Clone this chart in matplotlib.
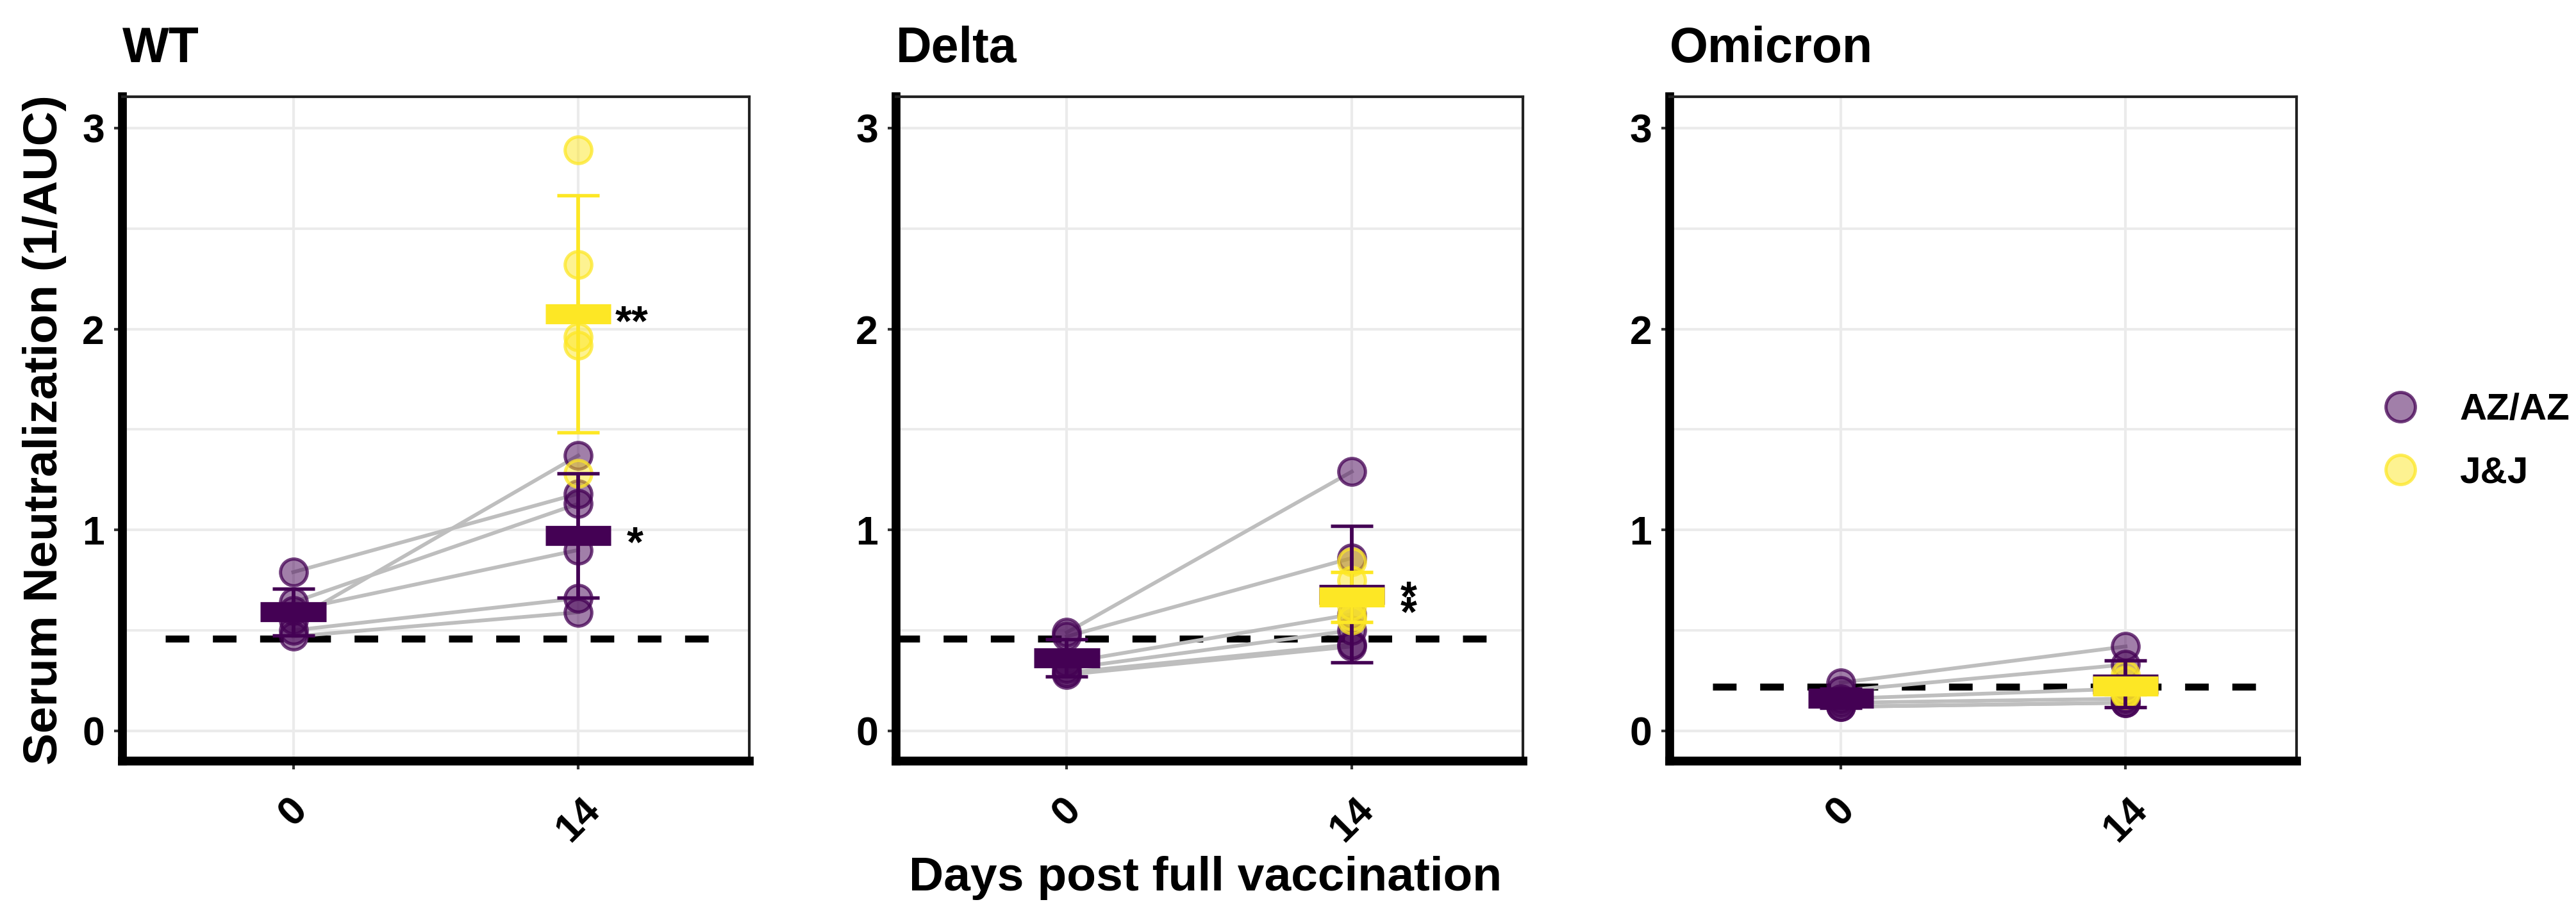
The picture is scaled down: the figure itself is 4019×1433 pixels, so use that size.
import numpy as np
import matplotlib
matplotlib.use("Agg")
import matplotlib.pyplot as plt
from matplotlib.lines import Line2D

plt.rcParams['font.family'] = ['Liberation Sans', 'DejaVu Sans']
plt.rcParams['font.weight'] = 'bold'

# data (serum neutralization, 1/AUC)
variants = ['WT', 'Delta', 'Omicron']
days = ['0', '14']

wt_az_d0 = [0.79, 0.64, 0.55, 0.60, 0.50, 0.47]
wt_az_d14 = [1.18, 1.13, 1.37, 0.90, 0.66, 0.59]
wt_jj_d14 = [2.89, 2.32, 1.96, 1.92, 1.28]

delta_az_d0 = [0.49, 0.47, 0.34, 0.31, 0.29, 0.28]
delta_az_d14 = [1.29, 0.86, 0.58, 0.50, 0.43, 0.42]
delta_jj_d14 = [0.84, 0.75, 0.62, 0.57, 0.55]

omicron_az_d0 = [0.24, 0.20, 0.16, 0.14, 0.12, 0.12]
omicron_az_d14 = [0.42, 0.33, 0.21, 0.16, 0.14, 0.14]
omicron_jj_d14 = [0.28, 0.25, 0.21, 0.19, 0.18]

detection_limit = [0.46, 0.46, 0.22]
lod_span = [(0.55, 2.52), (0.40, 2.54), (0.55, 2.52)]

# significance marks: (label, x, y of text centre)
wt_stars = [('**', 2.13, 2.025), ('*', 2.17, 0.925)]
delta_stars = [('*\n*', 2.17, 0.615)]   # two marks stacked almost on top of each other
omicron_stars = []

az_col = '#440154'
jj_col = '#FDE725'

panels = [
    (wt_az_d0, wt_az_d14, wt_jj_d14, wt_stars),
    (delta_az_d0, delta_az_d14, delta_jj_d14, delta_stars),
    (omicron_az_d0, omicron_az_d14, omicron_jj_d14, omicron_stars),
]

fig = plt.figure(figsize=(4019 / 300, 1433 / 300), dpi=300)
lefts = [0.0475, 0.3478, 0.6482]
W, H, B = 0.2433, 0.7237, 0.171


def rgba(c, a):
    return matplotlib.colors.to_rgba(c, a)


for i, (az0, az14, jj14, stars) in enumerate(panels):
    ax = fig.add_axes([lefts[i], B, W, H])
    ax.set_xlim(0.4, 2.6)
    ax.set_ylim(-0.15, 3.156)

    # grid like theme_bw
    ax.set_yticks([0, 1, 2, 3])
    ax.set_yticks([0.5, 1.5, 2.5], minor=True)
    ax.set_xticks([1, 2])
    ax.set_xticklabels(days)
    ax.grid(True, which='major', color='#EBEBEB', lw=1.0, zorder=0)
    ax.grid(True, which='minor', axis='y', color='#EBEBEB', lw=0.9, zorder=0)
    ax.set_axisbelow(True)
    ax.tick_params(axis='y', which='minor', length=0)
    ax.tick_params(axis='both', which='major', length=3.2, width=1.0,
                   color='#333333', labelsize=15, pad=3.5)
    ax.tick_params(axis='x', pad=8)
    for lab in ax.get_xticklabels():
        lab.set_rotation(45)
        lab.set_fontweight('bold')
    for lab in ax.get_yticklabels():
        lab.set_fontweight('bold')

    for s in ['top', 'right']:
        ax.spines[s].set_linewidth(1.0)
        ax.spines[s].set_color('#222222')
    for s in ['left', 'bottom']:
        ax.spines[s].set_linewidth(3.3)
        ax.spines[s].set_color('black')

    # detection limit
    ax.plot(lod_span[i], [detection_limit[i]] * 2, color='black', lw=2.6,
            linestyle=(0, (3.4, 3.4)), zorder=2)

    # paired lines for AZ/AZ
    for a, b in zip(az0, az14):
        ax.plot([1, 2], [a, b], color='#BEBEBE', lw=1.4, zorder=2)

    # individual points
    ax.plot([1] * len(az0), az0, 'o', ms=10, mfc=rgba(az_col, 0.5),
            mec=rgba(az_col, 0.75), mew=1.2, zorder=3)
    ax.plot([2] * len(az14), az14, 'o', ms=10, mfc=rgba(az_col, 0.5),
            mec=rgba(az_col, 0.75), mew=1.2, zorder=3)
    ax.plot([2] * len(jj14), jj14, 'o', ms=10, mfc=rgba(jj_col, 0.5),
            mec=rgba(jj_col, 0.75), mew=1.2, zorder=3)

    # mean +/- SD
    groups = [(1, az0, az_col), (2, az14, az_col), (2, jj14, jj_col)]
    for x, vals, col in groups:
        m = np.mean(vals)
        sd = np.std(vals, ddof=1)
        ax.errorbar([x], [m], yerr=[sd], fmt='none', ecolor=col,
                    elinewidth=1.4, capsize=8, capthick=1.3, zorder=4)
    for x, vals, col in groups:
        m = np.mean(vals)
        ax.hlines(m, x - 0.115, x + 0.115, color=col, lw=7.5, zorder=5,
                  capstyle='butt')

    for lab, sx, sy in stars:
        ax.text(sx, sy, lab, fontsize=16, fontweight='bold', ha='left',
                va='center', linespacing=0.22, zorder=6)

    ax.set_title(variants[i], loc='left', pad=13, fontsize=18.5,
                 fontweight='bold')

fig.text(0.0174, 0.532, 'Serum Neutralization (1/AUC)', rotation=90,
         ha='center', va='center', fontsize=18, fontweight='bold')
fig.text(0.468, 0.0433, 'Days post full vaccination', ha='center',
         va='center', fontsize=18, fontweight='bold')

handles = [
    Line2D([], [], ls='none', marker='o', ms=11, mfc=rgba(az_col, 0.5),
           mec=rgba(az_col, 0.75), mew=1.2, label='AZ/AZ'),
    Line2D([], [], ls='none', marker='o', ms=11, mfc=rgba(jj_col, 0.5),
           mec=rgba(jj_col, 0.75), mew=1.2, label='J&J'),
]
fig.legend(handles=handles, loc='center left', bbox_to_anchor=(0.9231, 0.519),
           frameon=False, handlelength=1.2, handletextpad=0.98,
           labelspacing=0.75, borderpad=0, borderaxespad=0,
           prop={'weight': 'bold', 'size': 14})

fig.savefig('out.png', dpi=300)
